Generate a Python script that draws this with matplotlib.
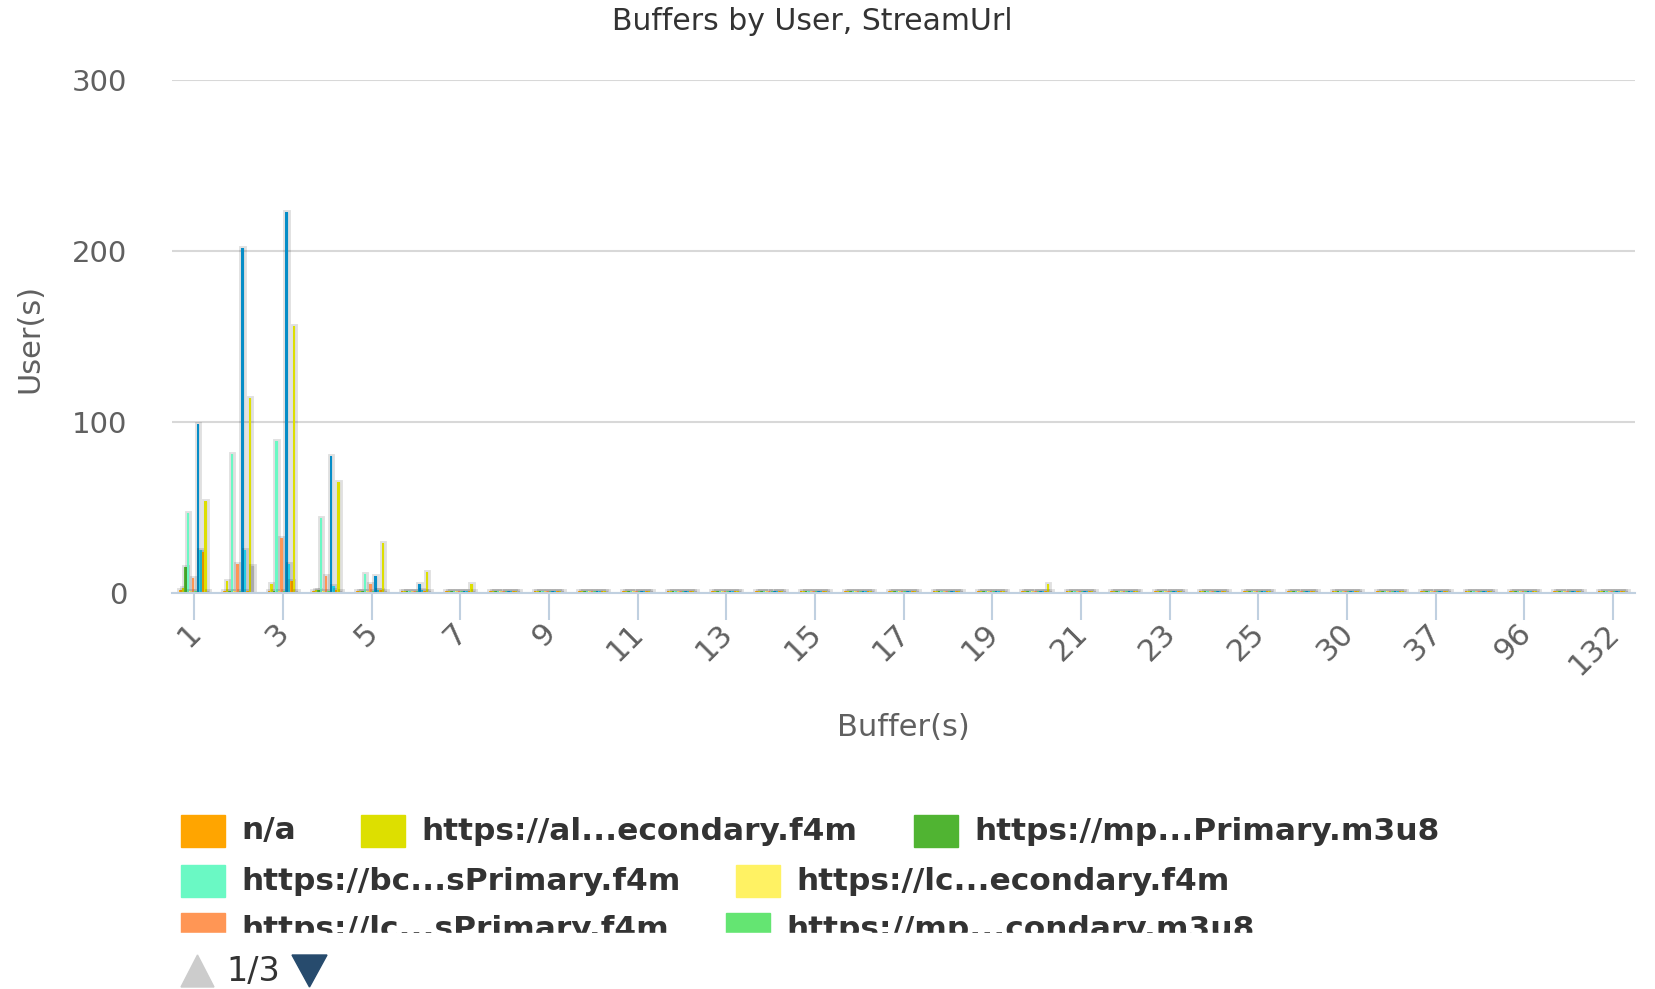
import numpy as np
import matplotlib
matplotlib.use('Agg')
import matplotlib.pyplot as plt
import matplotlib.patheffects as pe
import matplotlib.transforms as mtransforms
from matplotlib.patches import Rectangle, Polygon

# categorias del eje x (Buffer(s))
categorias = ['1', '2', '3', '4', '5', '6', '7', '8', '9', '10', '11', '12', '13',
              '14', '15', '16', '17', '18', '19', '20', '21', '22', '23', '24', '25',
              '27', '30', '34', '37', '55', '96', '107', '132']

# usuarios por serie (StreamUrl)
na = [2, 1, 1, 1, 1, 1, 1, 1, 1, 1, 1, 1, 1, 1, 1, 1, 1, 1, 1, 1, 1, 1, 1, 1, 1, 1, 1, 1, 1, 1, 1, 1, 1]
al_secondary = [3, 7, 5, 2, 1, 1, 1, 1, 1, 1, 1, 1, 1, 1, 1, 1, 1, 1, 1, 1, 1, 1, 1, 1, 1, 1, 1, 1, 1, 1, 1, 1, 1]
mp_primary = [15, 1, 1, 2, 1, 1, 1, 1, 1, 1, 1, 1, 1, 1, 1, 1, 1, 1, 1, 1, 1, 1, 1, 1, 1, 1, 1, 1, 1, 1, 1, 1, 1]
bc_primary = [47, 81, 89, 44, 11, 1, 1, 1, 1, 1, 1, 1, 1, 1, 1, 1, 1, 1, 1, 1, 1, 1, 1, 1, 1, 1, 1, 1, 1, 1, 1, 1, 1]
lc_secondary = [1, 1, 1, 1, 1, 1, 1, 1, 1, 1, 1, 1, 1, 1, 1, 1, 1, 1, 1, 1, 1, 1, 1, 1, 1, 1, 1, 1, 1, 1, 1, 1, 1]
lc_primary = [9, 17, 32, 10, 5, 1, 1, 1, 1, 1, 1, 1, 1, 1, 1, 1, 1, 1, 1, 1, 1, 1, 1, 1, 1, 1, 1, 1, 1, 1, 1, 1, 1]
mp_secondary = [1, 1, 1, 1, 1, 1, 1, 1, 1, 1, 1, 1, 1, 1, 1, 1, 1, 1, 1, 1, 1, 1, 1, 1, 1, 1, 1, 1, 1, 1, 1, 1, 1]
serie_8 = [99, 202, 223, 80, 10, 5, 1, 1, 1, 1, 1, 1, 1, 1, 1, 1, 1, 1, 1, 1, 1, 1, 1, 1, 1, 1, 1, 1, 1, 1, 1, 1, 1]
serie_9 = [25, 25, 17, 4, 2, 2, 1, 1, 1, 1, 1, 1, 1, 1, 1, 1, 1, 1, 1, 1, 1, 1, 1, 1, 1, 1, 1, 1, 1, 1, 1, 1, 1]
serie_10 = [24, 1, 7, 2, 2, 1, 1, 1, 1, 1, 1, 1, 1, 1, 1, 1, 1, 1, 1, 1, 1, 1, 1, 1, 1, 1, 1, 1, 1, 1, 1, 1, 1]
serie_11 = [54, 114, 156, 65, 29, 12, 5, 1, 1, 1, 1, 1, 1, 1, 1, 1, 1, 1, 1, 5, 1, 1, 1, 1, 1, 1, 1, 1, 1, 1, 1, 1, 1]
serie_12 = [1, 16, 1, 1, 1, 1, 1, 1, 1, 1, 1, 1, 1, 1, 1, 1, 1, 1, 1, 1, 1, 1, 1, 1, 1, 1, 1, 1, 1, 1, 1, 1, 1]

series = [na, al_secondary, mp_primary, bc_primary, lc_secondary, lc_primary,
          mp_secondary, serie_8, serie_9, serie_10, serie_11, serie_12]
colores = ['#FFA500', '#DDDF00', '#50B432', '#6AF9C4', '#FFF263', '#FF9655',
           '#64E572', '#058DC7', '#24CBE5', '#FFA500', '#DDDF00', '#AAAAAA']
# solo la primera pagina de la leyenda es visible
nombres_leyenda = ['n/a', 'https://al...econdary.f4m', 'https://mp...Primary.m3u8',
                   'https://bc...sPrimary.f4m', 'https://lc...econdary.f4m',
                   'https://lc...sPrimary.f4m', 'https://mp...condary.m3u8']

W, H = 1655, 989
fig = plt.figure(figsize=(W / 100, H / 100), dpi=100)
ax = fig.add_axes([172 / W, 1 - 593 / H, 1463 / W, 513 / H])

def fx(px):
    return px / W

def fy(py):
    return 1 - py / H

x = np.arange(len(categorias))
n = len(series)
paso = 0.68 / n
sombra = [pe.Stroke(linewidth=3.5, foreground='#000000', alpha=0.12), pe.Normal()]
for i, (vals, c) in enumerate(zip(series, colores)):
    barras = ax.bar(x + (i - (n - 1) / 2) * paso, vals, width=paso, color=c,
                    linewidth=0, zorder=3)
    for b in barras:
        b.set_path_effects(sombra)

ax.set_xlim(-0.5, len(categorias) - 0.5)
ax.set_ylim(0, 300)
ax.set_yticks([0, 100, 200, 300])
ax.yaxis.grid(True, color='#d8d8d8', linewidth=1.5)
ax.set_axisbelow(True)
for s in ['top', 'right', 'left']:
    ax.spines[s].set_visible(False)
ax.spines['bottom'].set_color('#c0d0e0')
ax.spines['bottom'].set_linewidth(1.5)
ax.spines['bottom'].set_zorder(4)

ax.tick_params(axis='y', length=0, pad=32, labelsize=21, labelcolor='#606060')
ax.set_xticks(x[::2])
ax.set_xticklabels(categorias[::2])
ax.tick_params(axis='x', length=19.5, width=1.5, color='#c0d0e0', labelsize=22,
               labelcolor='#606060', pad=6)
desplaz = mtransforms.ScaledTranslation(2 / 100, 0, fig.dpi_scale_trans)
for lbl in ax.get_xticklabels():
    lbl.set_rotation(45)
    lbl.set_ha('right')
    lbl.set_va('center')
    lbl.set_rotation_mode('anchor')
    lbl.set_transform(lbl.get_transform() + desplaz)

fig.text(fx(812), fy(21), 'Buffers by User, StreamUrl', ha='center', va='center',
         fontsize=21.5, color='#333333')
fig.text(fx(30), fy(338), 'User(s)', ha='center', va='center', rotation=90,
         fontsize=22, color='#606060')
fig.text(fx(903), fy(728), 'Buffer(s)', ha='center', va='center', fontsize=22,
         color='#606060')

# leyenda manual (pagina 1 de 3, tercera fila recortada)
pos_leyenda = [(181, 831), (361, 831), (914, 831), (181, 881), (736, 881),
               (181, 929), (726, 929)]
for (px, py), nombre, c in zip(pos_leyenda, nombres_leyenda, colores):
    fig.add_artist(Rectangle((fx(px), fy(py + 16)), 44 / W, 32 / H,
                             transform=fig.transFigure, color=c, zorder=2))
    fig.text(fx(px + 60), fy(py), nombre, ha='left', va='center', fontsize=22.5,
             fontweight='bold', color='#333333')
fig.add_artist(Rectangle((fx(170), fy(953)), 1300 / W, 20 / H,
                         transform=fig.transFigure, color='white', zorder=10))

# paginador
fig.add_artist(Polygon([(fx(181), fy(987)), (fx(214), fy(987)), (fx(197.5), fy(955))],
                       transform=fig.transFigure, color='#cccccc', zorder=11))
fig.text(fx(226), fy(971), '1/3', ha='left', va='center', fontsize=24,
         color='#333333', zorder=11)
fig.add_artist(Polygon([(fx(292), fy(955)), (fx(327), fy(955)), (fx(309.5), fy(987))],
                       transform=fig.transFigure, color='#274b6d', zorder=11))

fig.savefig('out.png', dpi=100, facecolor='white')
